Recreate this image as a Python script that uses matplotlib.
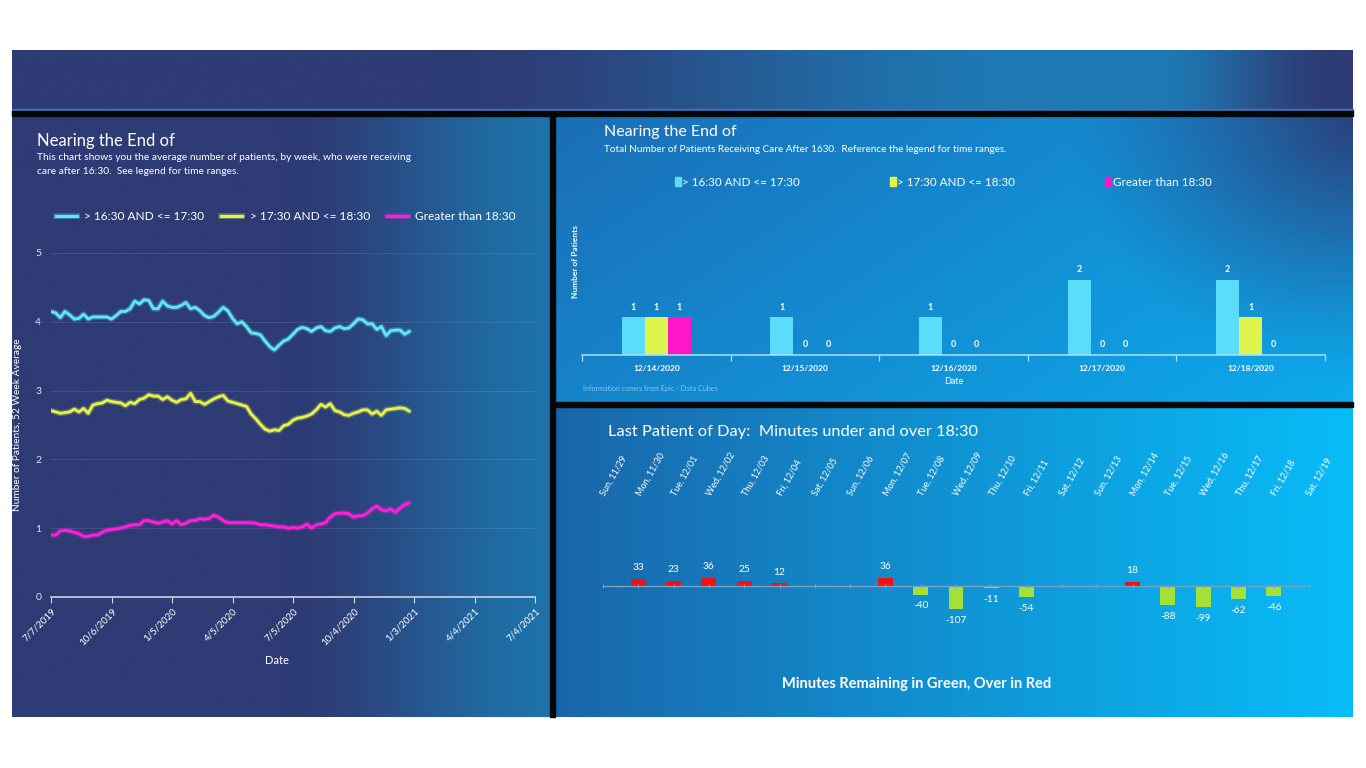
import numpy as np
import pandas as pd
import matplotlib
matplotlib.use('Agg')
import matplotlib.pyplot as plt
import matplotlib.patheffects as pe
from matplotlib.lines import Line2D
from matplotlib.patches import Rectangle

plt.rcParams['font.family'] = ['Lato', 'DejaVu Sans']

W, H = 1366, 768

# ---------------- data ----------------
week_start = '2019-07-07'
avg_1630_1730 = [4.15, 4.13, 4.06, 4.15, 4.10, 4.04, 4.05, 4.11, 4.04, 4.07,
                 4.07, 4.07, 4.07, 4.04, 4.09, 4.15, 4.15, 4.19, 4.30, 4.26,
                 4.32, 4.31, 4.19, 4.19, 4.30, 4.23, 4.21, 4.21, 4.24, 4.28,
                 4.19, 4.21, 4.16, 4.09, 4.06, 4.08, 4.14, 4.21, 4.16, 4.05,
                 3.97, 4.00, 3.93, 3.84, 3.83, 3.81, 3.72, 3.64, 3.59, 3.66,
                 3.72, 3.75, 3.82, 3.89, 3.92, 3.90, 3.86, 3.91, 3.93, 3.87,
                 3.86, 3.91, 3.93, 3.90, 3.91, 3.97, 4.04, 4.03, 3.97, 3.97,
                 3.89, 3.93, 3.80, 3.87, 3.88, 3.88, 3.82, 3.86]
avg_1730_1830 = [2.71, 2.69, 2.67, 2.68, 2.69, 2.73, 2.69, 2.74, 2.67, 2.79,
                 2.81, 2.82, 2.86, 2.84, 2.83, 2.82, 2.78, 2.83, 2.81, 2.87,
                 2.89, 2.94, 2.92, 2.92, 2.87, 2.91, 2.86, 2.83, 2.87, 2.88,
                 2.96, 2.84, 2.84, 2.80, 2.84, 2.88, 2.91, 2.93, 2.85, 2.83,
                 2.81, 2.79, 2.77, 2.66, 2.59, 2.51, 2.44, 2.41, 2.43, 2.42,
                 2.49, 2.51, 2.57, 2.60, 2.61, 2.63, 2.66, 2.72, 2.80, 2.76,
                 2.81, 2.71, 2.69, 2.65, 2.64, 2.67, 2.69, 2.72, 2.72, 2.66,
                 2.70, 2.64, 2.72, 2.73, 2.74, 2.75, 2.74, 2.70]
avg_after_1830 = [0.90, 0.90, 0.96, 0.97, 0.96, 0.94, 0.92, 0.88, 0.88, 0.90,
                  0.90, 0.94, 0.97, 0.98, 0.99, 1.00, 1.02, 1.04, 1.05, 1.05,
                  1.11, 1.11, 1.09, 1.07, 1.09, 1.11, 1.06, 1.11, 1.05, 1.07,
                  1.11, 1.11, 1.14, 1.13, 1.14, 1.19, 1.16, 1.11, 1.08, 1.08,
                  1.08, 1.08, 1.08, 1.08, 1.07, 1.05, 1.05, 1.04, 1.03, 1.02,
                  1.02, 1.00, 1.01, 1.00, 1.02, 1.06, 1.00, 1.05, 1.06, 1.08,
                  1.16, 1.21, 1.22, 1.22, 1.21, 1.16, 1.18, 1.18, 1.22, 1.28,
                  1.32, 1.27, 1.25, 1.28, 1.23, 1.29, 1.34, 1.37]
line_tick_labels = ['7/7/2019', '10/6/2019', '1/5/2020', '4/5/2020', '7/5/2020',
                    '10/4/2020', '1/3/2021', '4/4/2021', '7/4/2021']
series_names = ['> 16:30 AND <= 17:30', '> 17:30 AND <= 18:30', 'Greater than 18:30']

bar_dates = ['12/14/2020', '12/15/2020', '12/16/2020', '12/17/2020', '12/18/2020']
cnt_1630_1730 = [1, 1, 1, 2, 2]
cnt_1730_1830 = [1, 0, 0, 0, 1]
cnt_after_1830 = [1, 0, 0, 0, 0]

day_labels = ['Sun, 11/29', 'Mon, 11/30', 'Tue, 12/01', 'Wed, 12/02', 'Thu, 12/03',
              'Fri, 12/04', 'Sat, 12/05', 'Sun, 12/06', 'Mon, 12/07', 'Tue, 12/08',
              'Wed, 12/09', 'Thu, 12/10', 'Fri, 12/11', 'Sat, 12/12', 'Sun, 12/13',
              'Mon, 12/14', 'Tue, 12/15', 'Wed, 12/16', 'Thu, 12/17', 'Fri, 12/18',
              'Sat, 12/19']
minutes_over = [None, 33, 23, 36, 25, 12, None, None, 36, -40, -107, -11, -54,
                None, None, 18, -88, -99, -62, -46, None]

# ---------------- styles ----------------
CYAN_L, YEL_L, MAG_L = '#5ee8f6', '#e6f24c', '#ff1fd8'
CYAN_B, YEL_B, MAG_B = '#5adcfa', '#e0f54c', '#ff16c8'
RED, GREEN = '#f01212', '#a3e03a'

fig = plt.figure(figsize=(W / 100, H / 100), dpi=100)
fig.patch.set_facecolor('white')


def fx(x):
    return x / W


def fy(y):
    return 1 - y / H


def axes_px(x0, y0, x1, y1):
    return fig.add_axes([x0 / W, 1 - y1 / H, (x1 - x0) / W, (y1 - y0) / H])


# ---------------- backgrounds ----------------
bg = fig.add_axes([0, 0, 1, 1], zorder=-10)
bg.set_xlim(0, W)
bg.set_ylim(H, 0)
bg.axis('off')


def col(c):
    return np.array(c, dtype=float) / 255.0


def mix(c1, c2, t):
    t = np.clip(t, 0, 1)[..., None]
    return col(c1) * (1 - t) + col(c2) * t


def smooth(t):
    t = np.clip(t, 0, 1)
    return t * t * (3 - 2 * t)


def grad(x0, x1, y0, y1, func, nx=300, ny=150):
    xs = np.linspace(x0, x1, nx)
    ys = np.linspace(y0, y1, ny)
    X, Y = np.meshgrid(xs, ys)
    img = np.clip(func(X, Y), 0, 1)
    bg.imshow(img, extent=(x0, x1, y1, y0), origin='upper', aspect='auto',
              interpolation='bilinear', zorder=1)


NAVY = (46, 59, 116)


def header(X, Y):
    t = np.where(X < 1120, smooth((X - 430) / 620), 1 - smooth((X - 1150) / 190))
    return mix(NAVY, (30, 122, 180), t)


def left_panel(X, Y):
    t = smooth((X - 285) / 275)
    return mix(NAVY, (30, 114, 170), t)


def top_right(X, Y):
    t = (X - 555) / 798 * 0.65 + (Y - 116) / 286 * 0.35
    c = mix((27, 110, 182), (12, 170, 236), t)
    d = np.sqrt(((X - 1365) * 1.0) ** 2 + ((Y - 110) * 1.1) ** 2)
    v = np.clip(1 - d / 300, 0, 1) ** 1.2
    return c * (1 - v[..., None]) + col((44, 60, 120)) * v[..., None]


def bottom_right(X, Y):
    t = ((X - 555) / 798) ** 0.9
    return mix((26, 100, 168), (8, 188, 248), t)


grad(12, 1353, 50, 111, header)
grad(12, 551, 116, 717, left_panel)
grad(555, 1353, 116, 403, top_right)
grad(555, 1353, 406, 717, bottom_right)
bg.add_patch(Rectangle((12, 108.5), 1341, 2, color='#3d74b8', zorder=2))
bg.add_patch(Rectangle((12, 110.5), 1341, 5.5, color='#050608', zorder=2))
bg.add_patch(Rectangle((550, 116), 5, 601, color='#050608', zorder=2))
bg.add_patch(Rectangle((555, 402), 798, 4.5, color='#050608', zorder=2))

# ---------------- left panel: line chart ----------------
fig.text(fx(37), fy(141), 'Nearing the End of', color='white', fontsize=12,
         va='center', ha='left')
fig.text(fx(37), fy(158), 'This chart shows you the average number of patients, by week, who were receiving',
         color='white', fontsize=7.4, va='center', ha='left')
fig.text(fx(37), fy(171), 'care after 16:30.  See legend for time ranges.',
         color='white', fontsize=7.4, va='center', ha='left')

axL = axes_px(51, 253, 535, 597)
axL.patch.set_alpha(0)
dates = pd.date_range(week_start, periods=len(avg_1630_1730), freq='7D')
line_colors = [CYAN_L, YEL_L, MAG_L]
for vals, c in zip([avg_1630_1730, avg_1730_1830, avg_after_1830], line_colors):
    axL.plot(dates, vals, color=c, lw=2.1, solid_capstyle='round',
             path_effects=[pe.Stroke(linewidth=4.2, foreground=c, alpha=0.28), pe.Normal()])
tick_dates = pd.to_datetime(line_tick_labels, format='%m/%d/%Y')
axL.set_xlim(tick_dates[0], tick_dates[-1])
axL.set_ylim(0, 5)
axL.set_xticks(tick_dates)
axL.set_xticklabels(line_tick_labels, rotation=45, ha='right', rotation_mode='anchor')
axL.set_yticks([0, 1, 2, 3, 4, 5])
axL.set_yticklabels(['0', '1', '2', '3', '4', '5'])
axL.tick_params(axis='x', colors='#d5dbe8', labelcolor='white', labelsize=7, length=4, pad=3)
axL.tick_params(axis='y', labelcolor='#dfe4ee', labelsize=7.5, length=0, pad=7)
for s in ['top', 'right', 'left']:
    axL.spines[s].set_visible(False)
axL.spines['bottom'].set_color('#c9d1e2')
axL.spines['bottom'].set_linewidth(1.2)
axL.yaxis.grid(True, color='white', alpha=0.10, lw=0.8)
axL.set_axisbelow(True)
fig.text(fx(18), fy(425), 'Number of Patients, 52 Week Average', rotation=90,
         color='white', fontsize=7.3, ha='center', va='center')
fig.text(fx(277), fy(660), 'Date', color='white', fontsize=8, ha='center', va='center')

# legend (left)
leg_x = [56, 221, 387]
txt_x = [84, 250, 415]
for lx, tx, c, name in zip(leg_x, txt_x, line_colors, series_names):
    fig.add_artist(Line2D([fx(lx), fx(lx + 21)], [fy(216), fy(216)], color=c, lw=2.4,
                          transform=fig.transFigure,
                          path_effects=[pe.Stroke(linewidth=4.2, foreground=c, alpha=0.25), pe.Normal()]))
    fig.text(fx(tx), fy(216), name, color='white', fontsize=8.6, va='center', ha='left')

# ---------------- top right: bar chart ----------------
fig.text(fx(604), fy(132), 'Nearing the End of', color='white', fontsize=11.5,
         va='center', ha='left')
fig.text(fx(604), fy(149), 'Total Number of Patients Receiving Care After 1630.  Reference the legend for time ranges.',
         color='white', fontsize=7.2, va='center', ha='left')

axB = axes_px(582, 167.5, 1325, 355)
axB.patch.set_alpha(0)
xb = np.arange(len(bar_dates))
bw = 0.155
bar_colors = [CYAN_B, YEL_B, MAG_B]
for i, (vals, c) in enumerate(zip([cnt_1630_1730, cnt_1730_1830, cnt_after_1830], bar_colors)):
    bars = axB.bar(xb + (i - 1) * bw, vals, width=bw, color=c, edgecolor='none')
    axB.bar_label(bars, labels=[str(v) for v in vals], padding=4, color='white',
                  fontsize=6.5, fontweight='bold')
axB.set_xlim(-0.5, len(bar_dates) - 0.5)
axB.set_ylim(0, 5)
axB.set_xticks(xb)
axB.set_xticklabels(bar_dates)
axB.set_xticks(np.arange(-0.5, len(bar_dates)), minor=True)
axB.tick_params(axis='x', which='major', length=0, labelsize=6, labelcolor='white', pad=7)
axB.tick_params(axis='x', which='minor', length=4, color='#a9e3f7', width=0.9)
axB.set_yticks([])
for s in ['top', 'right', 'left']:
    axB.spines[s].set_visible(False)
axB.spines['bottom'].set_color('#a9e3f7')
axB.spines['bottom'].set_linewidth(1.1)
for lab in axB.get_xticklabels():
    lab.set_fontweight('bold')
fig.text(fx(575), fy(262), 'Number of Patients', rotation=90, color='white',
         fontsize=6, fontweight='bold', ha='center', va='center')
fig.text(fx(954), fy(381), 'Date', color='white', fontsize=6.5, ha='center', va='center')
fig.text(fx(583), fy(388), 'Information comes from Epic - Data Cubes', color='#86c4e6',
         fontsize=5.2, ha='left', va='center')

# legend (top right)
sq_x = [675, 890, 1105]
st_x = [682, 897, 1113]
for sx, tx, c, name in zip(sq_x, st_x, bar_colors, series_names):
    fig.add_artist(Rectangle((fx(sx), fy(186)), 6 / W, 9 / H, color=c,
                             transform=fig.transFigure))
    fig.text(fx(tx), fy(182), name, color='white', fontsize=8.4, va='center', ha='left')

# ---------------- bottom right: minutes chart ----------------
fig.text(fx(608), fy(432), 'Last Patient of Day:  Minutes under and over 18:30',
         color='white', fontsize=11.8, va='center', ha='left')

axM = axes_px(603, 526.5, 1309, 645.5)
axM.patch.set_alpha(0)
idx = [i for i, v in enumerate(minutes_over) if v is not None]
vals = [minutes_over[i] for i in idx]
bars = axM.bar(idx, vals, width=0.42, color=[RED if v > 0 else GREEN for v in vals],
               edgecolor='none')
axM.bar_label(bars, labels=[str(v) for v in vals], padding=5, color='white', fontsize=7.3)
axM.set_xlim(0, len(day_labels) - 1)
axM.set_ylim(-280, 280)
axM.set_yticks([])
for s in ['top', 'right', 'left']:
    axM.spines[s].set_visible(False)
axM.spines['bottom'].set_position(('data', 0))
axM.spines['bottom'].set_color('#7f9fbf')
axM.spines['bottom'].set_linewidth(1.0)
axM.set_xticks(range(len(day_labels)))
axM.set_xticklabels(day_labels, rotation=60, ha='left', va='center', rotation_mode='anchor')
axM.tick_params(axis='x', bottom=True, top=True, labelbottom=False, labeltop=True,
                length=3, color='#7f9fbf', direction='inout', pad=21,
                labelsize=6.5, labelcolor='white')
for t in axM.xaxis.get_major_ticks():
    t.tick2line.set_visible(False)
for lab in axM.get_xticklabels(which='major'):
    lab.set_rotation(60)
    lab.set_ha('left')
    lab.set_va('center')
    lab.set_rotation_mode('anchor')
fig.text(fx(917), fy(684), 'Minutes Remaining in Green, Over in Red', color='white',
         fontsize=10.5, fontweight='bold', ha='center', va='center')

fig.savefig('out.png', dpi=100, facecolor=fig.get_facecolor())
